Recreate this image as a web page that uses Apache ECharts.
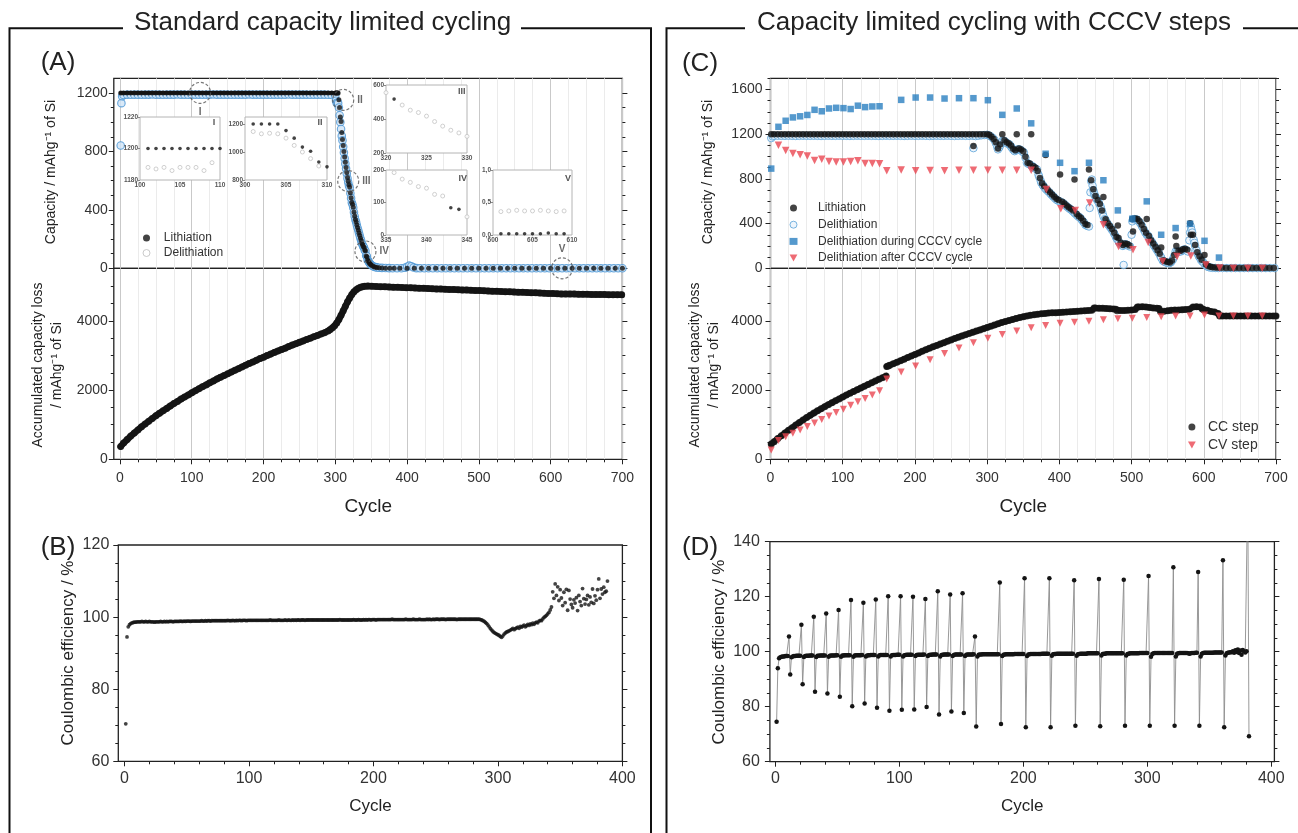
<!DOCTYPE html>
<html>
<head>
<meta charset="utf-8">
<script src="https://cdn.jsdelivr.net/npm/echarts@6/dist/echarts.min.js"></script>
<style>
html,body{margin:0;padding:0;background:#fff;}
#chart{width:1298px;height:833px;}
</style>
</head>
<body>
<div id="chart"></div>
<script>
// ---------- (A) standard capacity limited cycling: capacity per cycle ----------
const lithiationA = [
 [1,1200],[5,1200],[10,1200],[15,1200],[20,1200],[25,1200],[30,1200],[35,1200],[40,1200],[45,1200],
 [50,1200],[55,1200],[60,1200],[65,1200],[70,1200],[75,1200],[80,1200],[85,1200],[90,1200],[95,1200],
 [100,1200],[105,1200],[110,1200],[115,1200],[120,1200],[125,1200],[130,1200],[135,1200],[140,1200],[145,1200],
 [150,1200],[155,1200],[160,1200],[165,1200],[170,1200],[175,1200],[180,1200],[185,1200],[190,1200],[195,1200],
 [200,1200],[205,1200],[210,1200],[215,1200],[220,1200],[225,1200],[230,1200],[235,1200],[240,1200],[245,1200],
 [250,1200],[255,1200],[260,1200],[265,1200],[270,1200],[275,1200],[280,1200],[285,1200],[290,1200],[295,1200],
 [300,1200],[301,1200],[302,1200],[303,1200],[304,1200],[305,1153],[306,1100],[307,1035],[308,1005],[309,930],
 [310,882],[311,840],[312,800],[313,762],[314,725],[315,690],[316,655],[317,622],[318,595],[319,572],
 [320,556],[321,517],[322,482],[323,452],[324,438],[325,417],[326,385],[327,358],[328,334],[329,318],
 [330,298],[331,280],[332,262],[333,244],[334,226],[335,208],[336,192],[337,172],[338,162],[339,149],
 [340,144],[341,125],[342,120],[343,84],[344,79],[345,56],[346,48],[347,40],[348,33],[349,27],
 [350,22],[352,15],[354,10],[356,7],[358,5],[361,3],[365,2],[370,1],[376,0.5],[382,0.1],
 [390,0.02],[400,0.02],[410,0.02],[420,0.02],[430,0.02],[440,0.02],[450,0.02],[460,0.02],[470,0.02],[480,0.02],
 [490,0.02],[500,0.02],[510,0.02],[520,0.02],[530,0.02],[540,0.02],[550,0.02],[560,0.02],[570,0.02],[580,0.02],
 [590,0.02],[600,0.02],[610,0.02],[620,0.02],[630,0.02],[640,0.02],[650,0.02],[660,0.02],[670,0.02],[680,0.02],
 [690,0.02],[700,0.02]
];
const delithiationA = [
 [1,840],[2,1130],[3,1178],[5,1186],[10,1188],[15,1187],[20,1188],[25,1188],[30,1187],[35,1188],[40,1188],[45,1189],
 [50,1188],[55,1188],[60,1187],[65,1188],[70,1188],[75,1188],[80,1189],[85,1188],[90,1188],[95,1187],
 [100,1188],[105,1188],[110,1188],[115,1187],[120,1188],[125,1188],[130,1189],[135,1188],[140,1188],[145,1188],
 [150,1188],[155,1187],[160,1188],[165,1188],[170,1188],[175,1188],[180,1189],[185,1188],[190,1188],[195,1188],
 [200,1188],[205,1188],[210,1187],[215,1188],[220,1188],[225,1188],[230,1188],[235,1189],[240,1188],[245,1188],
 [250,1188],[255,1188],[260,1188],[265,1187],[270,1188],[275,1188],[280,1188],[285,1188],[290,1187],[295,1186],
 [300,1180],[301,1146],[302,1130],[303,1134],[304,1130],[305,1100],[306,1047],[307,1000],[308,953],[309,906],
 [310,875],[311,832],[312,792],[313,752],[314,716],[315,682],[316,648],[317,615],[318,588],[319,566],
 [320,552],[321,514],[322,480],[323,450],[324,436],[325,415],[326,383],[327,356],[328,332],[329,316],
 [330,296],[331,278],[332,260],[333,242],[334,224],[335,206],[336,190],[337,171],[338,161],[339,147],
 [340,143],[341,124],[342,119],[343,88],[344,82],[345,58],[346,50],[347,42],[348,35],[349,28],
 [350,23],[352,16],[354,11],[356,8],[358,6],[361,4],[365,3],[370,2],[375,1],[380,0.5],
 [386,0.4],[392,0.4],[397,4],[400,10],[403,18],[406,14],[409,6],[413,1],[418,0.4],[424,0.36],
 [430,0.36],[436,0.36],[442,0.36],[448,0.36],[454,0.36],[460,0.36],[466,0.36],[472,0.36],[478,0.36],[484,0.36],
 [490,0.36],[496,0.36],[502,0.36],[508,0.36],[514,0.36],[520,0.36],[526,0.36],[532,0.36],[538,0.36],[544,0.36],
 [550,0.36],[556,0.36],[562,0.36],[568,0.36],[574,0.36],[580,0.36],[586,0.36],[592,0.36],[598,0.36],[604,0.36],
 [610,0.36],[616,0.36],[622,0.36],[628,0.36],[634,0.36],[640,0.36],[646,0.36],[652,0.36],[658,0.36],[664,0.36],
 [670,0.36],[676,0.36],[682,0.36],[688,0.36],[694,0.36],[700,0.36]
];
// accumulated capacity loss (A, lower half)
const capacityLossA = [
 [1,370],[5,470],[10,570],[15,670],[20,760],[25,850],[30,940],[35,1020],[40,1100],[45,1180],
 [50,1260],[55,1330],[60,1400],[65,1470],[70,1540],[75,1610],[80,1670],[85,1740],[90,1800],[95,1860],
 [100,1920],[105,1980],[110,2040],[115,2100],[120,2150],[125,2210],[130,2260],[135,2320],[140,2370],[145,2420],
 [150,2470],[155,2520],[160,2570],[165,2620],[170,2670],[175,2720],[180,2770],[185,2810],[190,2860],[195,2910],
 [200,2950],[205,3000],[210,3040],[215,3090],[220,3130],[225,3170],[230,3210],[235,3260],[240,3300],[245,3340],
 [250,3380],[255,3420],[260,3460],[265,3500],[270,3540],[275,3580],[280,3620],[285,3660],[290,3710],[293,3750],
 [296,3800],[299,3860],[302,3940],[305,4040],[308,4160],[311,4290],[314,4420],[317,4550],[320,4660],[323,4760],
 [326,4840],[329,4900],[332,4940],[335,4970],[338,4990],[341,5000],[345,5005],[351,5000],[357,4995],[363,4990],
 [369,4985],[375,4980],[381,4975],[387,4970],[393,4965],[399,4960],[405,4955],[411,4950],[417,4945],[423,4940],
 [429,4935],[435,4930],[441,4925],[447,4920],[453,4915],[459,4910],[465,4905],[471,4900],[477,4895],[483,4890],
 [489,4885],[495,4880],[501,4875],[507,4870],[513,4865],[519,4860],[525,4855],[531,4850],[537,4845],[543,4840],
 [549,4835],[555,4830],[561,4825],[567,4820],[573,4815],[579,4810],[585,4805],[591,4800],[597,4795],[603,4790],
 [609,4785],[615,4780],[621,4778],[627,4776],[633,4774],[639,4772],[645,4770],[651,4768],[657,4766],[663,4764],
 [669,4762],[675,4760],[681,4758],[687,4756],[693,4754],[699,4752]
];
// close-up views inside (A)
const insetI_li = [[101,1200],[102,1200],[103,1200],[104,1200],[105,1200],[106,1200],[107,1200],[108,1200],[109,1200],[110,1200]];
const insetI_de = [[101,1188],[102,1187],[103,1188],[104,1186],[105,1188],[106,1188],[107,1188],[108,1186],[109,1191]];
const insetII_li = [[301,1200],[302,1200],[303,1200],[304,1200],[305,1153],[306,1099],[307,1035],[308,1005],[309,929],[310,894]];
const insetII_de = [[301,1146],[302,1130],[303,1134],[304,1130],[305,1099],[306,1047],[307,1000],[308,953],[309,900]];
const insetIII_li = [[321,517]];
const insetIII_de = [[320,555],[322,482],[323,452],[324,438],[325,417],[326,385],[327,358],[328,334],[329,318],[330,298]];
const insetIV_li = [[343,84],[344,79]];
const insetIV_de = [[336,192],[337,172],[338,162],[339,149],[340,144],[341,125],[342,120],[345,56]];
const insetV_li = [[601,0.02],[602,0.02],[603,0.02],[604,0.02],[605,0.02],[606,0.02],[607,0.03],[608,0.02],[609,0.02]];
const insetV_de = [[601,0.36],[602,0.37],[603,0.38],[604,0.37],[605,0.37],[606,0.38],[607,0.37],[608,0.36],[609,0.37]];
// highlighted regions I..V in (A): [cycle, capacity, tag, label side]
const zoomMarks = [[111.6,1200,'I','bottom'],[311,1152,'II','right'],[318,597,'III','right'],[342,115,'IV','right'],[616,0,'V','top']];

// ---------- (B) coulombic efficiency, cycles 1..388 ----------
const efficiencyB = [
 70.4,94.5,97.3,97.9,98.2,98.4,98.5,98.6,98.6,98.7,
 98.7,98.7,98.7,98.8,98.7,98.7,98.8,98.7,98.7,98.8,
 98.7,98.7,98.7,98.6,98.7,98.7,98.7,98.7,98.8,98.7,
 98.7,98.8,98.7,98.8,98.7,98.8,98.8,98.8,98.7,98.8,
 98.8,98.8,98.8,98.8,98.9,98.8,98.8,98.9,98.8,98.9,
 98.9,98.9,98.8,98.9,98.9,98.9,98.9,98.9,98.9,98.9,
 98.9,99.0,98.9,98.9,99.0,98.9,99.0,99.0,98.9,99.0,
 99.0,99.0,99.0,99.0,99.0,99.0,99.0,99.0,99.0,99.0,
 99.0,99.0,99.1,99.0,99.0,99.0,99.1,99.0,99.0,99.1,
 99.0,99.1,99.1,99.0,99.1,99.1,99.1,99.0,99.1,99.1,
 99.1,99.1,99.1,99.1,99.1,99.1,99.1,99.1,99.1,99.1,
 99.1,99.1,99.1,99.1,99.1,99.1,99.2,99.1,99.1,99.1,
 99.1,99.1,99.1,99.2,99.1,99.1,99.1,99.1,99.2,99.1,
 99.1,99.2,99.1,99.1,99.2,99.1,99.2,99.1,99.2,99.2,
 99.1,99.2,99.2,99.2,99.1,99.2,99.2,99.2,99.2,99.2,
 99.2,99.2,99.2,99.2,99.2,99.2,99.2,99.2,99.2,99.2,
 99.2,99.2,99.2,99.2,99.2,99.2,99.2,99.2,99.2,99.2,
 99.2,99.2,99.3,99.2,99.2,99.2,99.2,99.2,99.2,99.2,
 99.2,99.2,99.2,99.3,99.2,99.2,99.2,99.3,99.2,99.2,
 99.2,99.3,99.2,99.3,99.2,99.3,99.3,99.2,99.3,99.3,
 99.3,99.2,99.3,99.3,99.3,99.3,99.3,99.3,99.3,99.3,
 99.3,99.3,99.3,99.3,99.4,99.3,99.3,99.3,99.3,99.3,
 99.3,99.3,99.3,99.3,99.3,99.4,99.3,99.3,99.3,99.3,
 99.3,99.4,99.3,99.3,99.3,99.3,99.4,99.3,99.3,99.3,
 99.3,99.3,99.4,99.3,99.4,99.3,99.3,99.4,99.3,99.4,
 99.4,99.4,99.3,99.4,99.4,99.4,99.4,99.3,99.4,99.4,
 99.4,99.4,99.4,99.4,99.4,99.4,99.3,99.4,99.4,99.4,
 99.4,99.4,99.4,99.4,99.4,99.4,99.4,99.4,99.4,99.4,
 99.4,99.4,99.4,99.4,99.4,99.3,99.2,99.0,98.8,98.5,
 98.2,97.8,97.3,96.8,96.4,96.0,95.7,95.5,95.3,95.1,
 94.9,94.6,94.4,94.8,95.3,95.6,95.9,96.0,96.2,96.4,
 96.6,96.9,96.5,96.8,97.0,97.2,96.9,97.4,97.2,97.5,
 97.8,97.3,97.6,98.0,97.7,98.1,97.9,98.3,98.0,98.4,
 98.6,98.4,98.9,99.1,99.0,99.5,99.9,100.2,100.5,100.9,
 101.3,102.0,102.8,107.0,105.2,109.2,106.0,108.4,104.6,107.6,
 105.3,103.2,106.9,104.0,107.7,101.9,107.4,105.0,103.5,102.6,
 104.8,103.9,105.4,101.8,106.0,104.3,103.2,107.9,105.1,103.6,
 104.9,106.0,103.4,105.6,104.1,107.8,103.8,105.9,104.7,107.6,
 110.6,105.2,107.8,106.4,108.3,106.9,107.2,110.0
];

// ---------- (C) capacity limited cycling with CCCV steps ----------
const lithiationC = [
 [1,1200],[5,1200],[10,1200],[15,1200],[20,1200],[25,1200],[30,1200],[35,1200],[40,1200],[45,1200],
 [50,1200],[55,1200],[60,1200],[65,1200],[70,1200],[75,1200],[80,1200],[85,1200],[90,1200],[95,1200],
 [100,1200],[105,1200],[110,1200],[115,1200],[120,1200],[125,1200],[130,1200],[135,1200],[140,1200],[145,1200],
 [150,1200],[155,1200],[160,1200],[165,1200],[170,1200],[175,1200],[180,1200],[185,1200],[190,1200],[195,1200],
 [200,1200],[205,1200],[210,1200],[215,1200],[220,1200],[225,1200],[230,1200],[235,1200],[240,1200],[245,1200],
 [250,1200],[255,1200],[260,1200],[265,1200],[270,1200],[275,1200],[280,1200],[281,1095],[285,1200],[290,1200],
 [295,1200],[300,1200],[303,1196],[306,1178],[309,1158],[312,1128],[315,1072],[318,1108],[321,1200],[324,1146],
 [327,1128],[330,1116],[333,1098],[336,1070],[339,1056],[341,1200],[344,1072],[347,1063],[350,1048],[353,998],
 [356,945],[359,937],[361,1200],[364,913],[367,900],[370,870],[373,808],[376,760],[379,734],[381,1013],
 [384,700],[387,680],[390,660],[393,641],[396,622],[399,611],[401,839],[404,596],[407,580],[410,563],
 [413,547],[416,533],[419,517],[421,794],[424,485],[427,466],[430,450],[433,426],[436,397],[439,388],
 [441,884],[444,788],[447,708],[450,648],[453,612],[456,575],[459,518],[461,638],[464,438],[467,404],
 [470,378],[473,352],[476,318],[479,280],[481,383],[482,270],[485,228],[488,208],[491,223],[494,218],
 [497,205],[501,440],[502,330],[505,446],[508,442],[511,420],[514,390],[517,352],[520,318],[521,440],
 [524,288],[527,250],[530,222],[533,192],[536,162],[539,130],[541,186],[544,72],[547,63],[550,56],
 [553,52],[556,70],[559,118],[561,285],[562,200],[565,156],[568,158],[571,170],[574,176],[577,166],
 [581,404],[582,300],[585,300],[588,208],[591,143],[594,108],[597,76],[601,120],[603,33],[606,20],
 [609,14],[612,10],[616,8],[620,6],[625,4],[631,2],[637,2],[643,2],[649,2],[655,2],
 [661,2],[667,2],[673,2],[679,2],[685,2],[691,2],[697,2]
];
const delithiationC = [
 [1,1165],[3,1180],[5,1185],[10,1186],[15,1185],[20,1185],[25,1186],[30,1185],[35,1184],[40,1185],
 [45,1186],[50,1185],[55,1185],[60,1186],[65,1185],[70,1184],[75,1185],[80,1186],[85,1185],[90,1185],
 [95,1186],[100,1185],[105,1185],[110,1184],[115,1185],[120,1186],[125,1185],[130,1185],[135,1186],[140,1185],
 [145,1185],[150,1184],[155,1185],[160,1186],[165,1185],[170,1185],[175,1186],[180,1185],[185,1184],[190,1185],
 [195,1186],[200,1185],[205,1185],[210,1186],[215,1185],[220,1184],[225,1185],[230,1186],[235,1185],[240,1185],
 [245,1186],[250,1185],[255,1184],[260,1185],[265,1186],[270,1185],[275,1185],[280,1186],[281,1075],[284,1183],
 [288,1186],[292,1190],[296,1192],[300,1195],[303,1188],[305,1180],[308,1165],[310,1150],[312,1120],[314,1085],
 [315,1064],[317,1082],[318,1100],[320,1125],[321,1140],[323,1140],[324,1138],[326,1128],[327,1120],[329,1114],
 [331,1108],[333,1090],[334,1080],[336,1062],[338,1048],[340,1055],[341,1060],[343,1064],[345,1064],[347,1055],
 [348,1050],[350,1040],[351,1034],[353,990],[355,944],[357,935],[359,929],[361,920],[362,915],[364,905],
 [365,900],[367,892],[369,884],[371,840],[372,820],[374,785],[375,764],[377,745],[378,735],[380,718],
 [382,704],[384,692],[386,680],[388,666],[389,659],[391,646],[392,640],[394,626],[396,614],[398,606],
 [400,600],[402,594],[405,584],[407,572],[409,560],[411,550],[413,539],[415,530],[416,525],[418,515],
 [419,509],[421,496],[422,490],[424,477],[426,464],[428,456],[429,450],[431,434],[433,418],[434,410],
 [436,389],[438,382],[439,380],[441,374],[442,540],[443,680],[444,780],[445,794],[446,740],[447,700],
 [448,674],[449,655],[450,640],[451,627],[452,614],[454,595],[455,580],[457,554],[458,532],[459,510],
 [460,487],[461,464],[463,440],[464,430],[465,417],[466,404],[468,388],[470,370],[472,352],[473,344],
 [475,322],[476,310],[478,284],[479,272],[480,262],[482,240],[483,232],[485,220],[487,208],[488,200],
 [489,30],[490,212],[491,215],[493,212],[494,210],[496,200],[498,195],[500,300],[501,420],[502,440],
 [504,440],[505,438],[507,436],[508,434],[510,420],[512,404],[514,382],[515,370],[517,344],[519,320],
 [521,300],[523,290],[524,280],[526,254],[528,236],[529,225],[531,205],[532,195],[534,175],[535,165],
 [537,145],[538,135],[540,108],[541,95],[543,70],[545,60],[547,55],[548,52],[550,48],[552,45],
 [554,52],[555,60],[557,75],[558,92],[559,110],[561,150],[563,149],[564,148],[566,150],[568,150],
 [570,158],[571,162],[573,170],[575,165],[576,160],[578,150],[580,250],[581,320],[582,374],[583,345],
 [584,320],[586,255],[587,228],[588,200],[590,160],[591,135],[593,110],[594,100],[596,75],[598,62],
 [599,55],[601,39],[603,25],[605,15],[607,10],[609,7],[612,4],[616,3],[620,2],[626,2],
 [632,2],[638,2],[644,2],[650,2],[656,2],[662,2],[668,2],[674,2],[680,2],[686,2],
 [692,2],[698,2]
];
const delithDuringCCCV = [
 [1,892],[11,1266],[21,1320],[31,1350],[41,1360],[51,1372],[61,1418],[71,1405],[81,1430],[91,1436],
 [101,1433],[111,1425],[121,1455],[131,1442],[141,1448],[151,1450],[181,1507],[201,1528],[221,1528],[241,1519],
 [261,1522],[281,1522],[301,1504],[321,1373],[341,1430],[361,1297],[381,1025],[401,944],[421,869],[441,944],
 [461,788],[481,518],[501,443],[521,599],[541,300],[561,360],[581,398],[601,246],[621,96]
];
const delithAfterCCCV = [
 [11,1100],[21,1055],[31,1028],[41,1015],[51,1005],[61,965],[71,975],[81,955],[91,952],[101,952],
 [111,955],[121,962],[131,937],[141,937],[151,935],[161,872],[181,880],[201,872],[221,875],[241,872],
 [261,878],[281,878],[301,878],[321,878],[341,878],[361,878],[382,704],[402,533],[422,518],[442,584],
 [461,390],[482,195],[502,165],[523,231],[543,60],[563,105],[582,111],[603,30],[622,2],[641,1],
 [661,1],[681,1]
];
// accumulated capacity loss (C, lower half)
const lossCCStep = [
 [1,440],[5,510],[10,600],[15,680],[20,760],[25,840],[30,915],[35,990],[40,1065],[45,1135],
 [50,1205],[55,1270],[60,1335],[65,1400],[70,1460],[75,1520],[80,1580],[85,1635],[90,1690],[95,1745],
 [100,1800],[105,1855],[110,1910],[115,1960],[120,2010],[125,2060],[130,2110],[135,2160],[140,2210],[145,2260],
 [150,2310],[155,2360],[160,2410],[161,2680],[163,2700],[165,2715],[170,2760],[175,2805],[180,2850],[185,2895],
 [190,2940],[195,2985],[200,3030],[205,3075],[210,3120],[215,3165],[220,3210],[225,3250],[230,3290],[235,3330],
 [240,3370],[245,3410],[250,3450],[255,3490],[260,3530],[265,3565],[270,3600],[275,3635],[280,3670],[285,3705],
 [290,3740],[295,3775],[300,3810],[305,3845],[310,3880],[315,3915],[320,3950],[325,3980],[330,4010],[335,4040],
 [340,4070],[345,4095],[350,4120],[355,4145],[360,4165],[365,4180],[370,4195],[375,4205],[380,4215],[385,4225],
 [390,4232],[395,4238],[400,4245],[405,4252],[410,4258],[415,4265],[420,4272],[425,4280],[430,4287],[435,4293],
 [440,4300],[445,4308],[448,4370],[450,4372],[455,4368],[460,4362],[465,4358],[470,4352],[475,4345],[478,4340],
 [480,4295],[485,4298],[490,4302],[495,4306],[500,4312],[505,4330],[508,4400],[510,4405],[515,4410],[520,4400],
 [525,4385],[530,4372],[535,4365],[538,4358],[540,4275],[545,4282],[550,4295],[555,4305],[560,4312],[565,4318],
 [570,4322],[575,4328],[580,4335],[585,4400],[590,4410],[595,4398],[598,4345],[600,4325],[605,4305],[610,4275],
 [615,4255],[620,4215],[622,4140],[626,4140],[631,4139],[636,4139],[641,4138],[646,4138],[651,4138],[656,4138],
 [661,4138],[666,4138],[671,4138],[676,4138],[681,4138],[686,4138],[691,4138],[696,4138],[700,4138]
];
const lossCVStep = [
 [1,270],[11,540],[21,650],[31,750],[41,850],[51,950],[61,1050],[71,1150],[81,1250],[91,1350],
 [101,1450],[111,1560],[121,1660],[131,1760],[141,1860],[151,1980],[161,2320],[181,2520],[201,2700],[221,2880],
 [241,3060],[261,3220],[281,3370],[301,3500],[321,3610],[341,3710],[361,3800],[381,3870],[401,3930],[421,3960],
 [441,3990],[461,4030],[481,4060],[501,4080],[521,4100],[541,4120],[561,4140],[581,4145],[601,4170],[621,4145],
 [641,4140],[661,4140],[681,4140]
];

// ---------- (D) coulombic efficiency with CCCV steps, cycles 1..382 ----------
const efficiencyD = [
 74.5,94.0,97.6,98.0,98.2,98.3,98.3,98.4,98.4,98.4,
 105.5,91.7,98.0,98.3,98.4,98.4,98.5,98.5,98.5,98.5,
 109.8,88.2,98.1,98.4,98.5,98.5,98.5,98.6,98.6,98.6,
 112.7,85.4,98.1,98.5,98.5,98.6,98.6,98.6,98.6,98.6,
 113.9,84.8,98.2,98.5,98.6,98.6,98.6,98.6,98.7,98.7,
 115.2,83.6,98.2,98.6,98.6,98.7,98.7,98.7,98.7,98.7,
 118.8,80.2,98.2,98.6,98.7,98.7,98.7,98.7,98.7,98.8,
 117.8,81.2,98.3,98.6,98.7,98.7,98.8,98.8,98.8,98.8,
 119.0,79.6,98.3,98.7,98.8,98.8,98.8,98.8,98.8,98.8,
 120.2,78.5,98.3,98.7,98.8,98.8,98.8,98.9,98.9,98.9,
 120.2,78.9,98.3,98.7,98.8,98.9,98.9,98.9,98.9,98.9,
 120.0,79.0,98.4,98.8,98.9,98.9,98.9,98.9,98.9,99.0,
 119.2,79.9,98.4,98.8,98.9,98.9,99.0,99.0,99.0,99.0,
 122.0,77.2,98.3,98.8,98.9,99.0,99.0,99.0,99.0,99.0,
 120.8,78.3,98.4,98.8,99.0,99.0,99.0,99.0,99.0,99.0,
 121.3,77.7,98.4,98.9,99.0,99.0,99.0,99.0,99.0,99.1,
 105.5,72.8,98.3,98.9,99.0,99.0,99.1,99.1,99.1,99.1,
 99.1,99.1,99.1,99.1,99.1,99.1,99.1,99.1,99.1,99.1,
 125.2,73.7,98.4,98.9,99.0,99.1,99.1,99.1,99.1,99.1,
 99.1,99.1,99.2,99.2,99.2,99.2,99.2,99.2,99.2,99.2,
 126.7,72.5,98.4,99.0,99.1,99.2,99.2,99.2,99.2,99.2,
 99.2,99.2,99.2,99.2,99.3,99.3,99.3,99.3,99.3,99.3,
 126.7,72.5,98.5,99.1,99.2,99.2,99.3,99.3,99.3,99.3,
 99.3,99.3,99.3,99.3,99.3,99.3,99.3,99.3,99.3,99.3,
 126.0,73.1,98.5,99.1,99.2,99.3,99.3,99.3,99.3,99.3,
 99.3,99.4,99.4,99.4,99.4,99.4,99.4,99.4,99.4,99.4,
 126.4,72.9,98.6,99.2,99.3,99.3,99.4,99.4,99.4,99.4,
 99.4,99.4,99.4,99.4,99.4,99.4,99.4,99.4,99.4,99.4,
 126.2,73.1,98.6,99.2,99.3,99.4,99.4,99.4,99.4,99.4,
 99.4,99.4,99.4,99.5,99.5,99.5,99.5,99.5,99.5,99.5,
 127.5,73.1,98.2,99.2,99.4,99.5,99.5,99.5,99.5,99.5,
 99.5,99.5,99.5,99.5,99.5,99.5,99.5,99.5,99.5,99.5,
 130.7,73.1,98.3,99.3,99.4,99.5,99.5,99.5,99.5,99.5,
 99.5,99.5,99.4,99.3,99.4,99.5,99.5,99.5,99.6,99.6,
 129.0,73.1,98.3,99.3,99.5,99.6,99.6,99.6,99.6,99.6,
 99.6,99.6,99.6,99.7,99.7,99.7,99.7,99.7,99.7,99.7,
 133.3,72.5,98.6,99.4,99.6,99.7,99.8,99.8,100.2,99.6,
 100.5,99.9,100.8,99.5,100.4,98.9,100.6,100.1,99.7,100.2,
 160.0,69.3
];

// ---------- tick positions ----------
function ticks(from, to, step, skipEvery) {
  const out = [];
  for (let v = from; v <= to + 1e-9; v += step) {
    const r = Math.round(v * 1000) / 1000;
    if (skipEvery && Math.abs(r / skipEvery - Math.round(r / skipEvery)) < 1e-9) continue;
    out.push(r);
  }
  return out;
}
const cycleMajor700 = ticks(0, 700, 100);
const cycleMinor700 = ticks(25, 675, 25, 100);
const cycleMajor400 = ticks(0, 400, 100);
const cycleMinor400 = ticks(20, 380, 20, 100);

// ---------- layout helpers ----------
const FONT = "'Liberation Sans', Arial, Helvetica, sans-serif";
const INK = '#222';
const plain = v => String(v);
const grids = [], xAxes = [], yAxes = [], series = [];

function addPanel(p) {
  const g = grids.length;
  grids.push({
    left: p.rect[0], top: p.rect[1], width: p.rect[2], height: p.rect[3],
    show: true, borderColor: INK, borderWidth: 1.3, backgroundColor: 'transparent',
    containLabel: false, outerBoundsMode: 'none'
  });
  const xi = xAxes.length, yi = yAxes.length;
  const fs = p.fontSize;
  const xBase = {gridIndex: g, type: 'value', min: p.x[0], max: p.x[1], position: 'bottom',
    axisLine: {show: false, onZero: false}, silent: true};
  xAxes.push(Object.assign({}, xBase, {
    axisTick: {show: !!p.xTicks, customValues: p.xMajor, length: 5, inside: false, lineStyle: {color: INK, width: 1}},
    axisLabel: {show: !!p.xTicks, customValues: p.xMajor, formatter: plain, fontSize: fs, color: '#333', fontFamily: FONT, margin: p.xMargin},
    splitLine: {show: !!p.vgrid, lineStyle: {color: '#c9c9c9', width: 1}}
  }));
  xAxes.push(Object.assign({}, xBase, {
    axisTick: {show: !!p.xTicks, customValues: p.xMinor, length: 3, inside: false, lineStyle: {color: INK, width: 1}},
    axisLabel: {show: false},
    splitLine: {show: !!p.vgrid, lineStyle: {color: '#ebebeb', width: 1}}
  }));
  const yBase = {gridIndex: g, type: 'value', min: p.y[0], max: p.y[1],
    axisLine: {show: false, onZero: false}, splitLine: {show: false}, silent: true};
  ['left', 'right'].forEach(function (side) {
    yAxes.push(Object.assign({}, yBase, {position: side,
      axisTick: {show: true, customValues: p.yMajor, length: 5, inside: false, lineStyle: {color: INK, width: 1}},
      axisLabel: {show: side === 'left', customValues: p.yMajor, formatter: plain, fontSize: fs, color: '#333', fontFamily: FONT, margin: p.yMargin}
    }));
    yAxes.push(Object.assign({}, yBase, {position: side,
      axisTick: {show: true, customValues: p.yMinor, length: 3, inside: false, lineStyle: {color: INK, width: 1}},
      axisLabel: {show: false}
    }));
  });
  return {x: xi, y: yi};
}

function addInset(rect, xr, yr, xl, yl, fmt) {
  const g = grids.length;
  grids.push({left: rect[0], top: rect[1], width: rect[2], height: rect[3], show: true,
    borderColor: '#b4b4b4', borderWidth: 1, backgroundColor: '#fff', z: 3,
    containLabel: false, outerBoundsMode: 'none'});
  const lab = {fontSize: 6.5, fontWeight: 'bold', color: '#555', fontFamily: FONT, margin: 2};
  const xi = xAxes.length, yi = yAxes.length;
  xAxes.push({gridIndex: g, type: 'value', min: xr[0], max: xr[1], position: 'bottom', z: 4, silent: true,
    axisLine: {show: false, onZero: false}, axisTick: {show: false, customValues: xl},
    axisLabel: Object.assign({customValues: xl, formatter: plain}, lab), splitLine: {show: false}});
  yAxes.push({gridIndex: g, type: 'value', min: yr[0], max: yr[1], position: 'left', z: 4, silent: true,
    axisLine: {show: false, onZero: false}, axisTick: {show: true, customValues: yl, length: 2, lineStyle: {color: '#888'}},
    axisLabel: Object.assign({customValues: yl, formatter: fmt || plain}, lab), splitLine: {show: false}});
  return {x: xi, y: yi};
}

function scatter(name, ax, data, sym, size, style, z, extra) {
  return Object.assign({
    name: name, type: 'scatter', xAxisIndex: ax.x, yAxisIndex: ax.y, data: data,
    symbol: sym, symbolSize: size, itemStyle: style, z: z || 2,
    emphasis: {disabled: true}, silent: true, clip: true
  }, extra || {});
}
// a continuous stroke under densely spaced points, so the point chain reads as one band
function band(ax, data, width, z) {
  return {type: 'line', xAxisIndex: ax.x, yAxisIndex: ax.y, data: data, showSymbol: false, symbol: 'none',
    lineStyle: {color: '#141414', width: width, cap: 'round', join: 'round'}, z: z,
    silent: true, emphasis: {disabled: true}, clip: true};
}

// ---------- panels ----------
const A1 = addPanel({rect: [113.8, 78.3, 508.6, 190], x: [-8.6, 700], y: [0, 1300],
  xMajor: cycleMajor700, xMinor: cycleMinor700, yMajor: [0, 400, 800, 1200], yMinor: ticks(100, 1100, 100, 400),
  vgrid: true, xTicks: false, fontSize: 14, xMargin: 12, yMargin: 6});
const A2 = addPanel({rect: [113.8, 268.3, 508.6, 191], x: [-8.6, 700], y: [0, 5520],
  xMajor: cycleMajor700, xMinor: cycleMinor700, yMajor: [0, 2000, 4000], yMinor: ticks(500, 5000, 500, 2000),
  vgrid: true, xTicks: true, fontSize: 14, xMargin: 12, yMargin: 6});
const B = addPanel({rect: [118.3, 545, 504.1, 216.3], x: [-5, 400], y: [60, 120],
  xMajor: cycleMajor400, xMinor: cycleMinor400, yMajor: [60, 80, 100, 120], yMinor: ticks(65, 115, 5, 20),
  vgrid: false, xTicks: true, fontSize: 16, xMargin: 9, yMargin: 9});
const C1 = addPanel({rect: [770.5, 78.3, 505.5, 190], x: [0, 700], y: [0, 1700],
  xMajor: cycleMajor700, xMinor: cycleMinor700, yMajor: [0, 400, 800, 1200, 1600], yMinor: ticks(100, 1700, 100, 400),
  vgrid: true, xTicks: false, fontSize: 14, xMargin: 12, yMargin: 8});
const C2 = addPanel({rect: [770.5, 268.3, 505.5, 191], x: [0, 700], y: [0, 5520],
  xMajor: cycleMajor700, xMinor: cycleMinor700, yMajor: [0, 2000, 4000], yMinor: ticks(500, 5000, 500, 2000),
  vgrid: true, xTicks: true, fontSize: 14, xMargin: 12, yMargin: 8});
const D = addPanel({rect: [769.9, 541.7, 504.5, 220], x: [-4.4, 402.5], y: [60, 140],
  xMajor: cycleMajor400, xMinor: cycleMinor400, yMajor: [60, 80, 100, 120, 140], yMinor: ticks(65, 135, 5, 20),
  vgrid: false, xTicks: true, fontSize: 16, xMargin: 9, yMargin: 10});

const comma = v => v.toFixed(1).replace('.', ',');
const I1 = addInset([140, 117, 80, 63], [100, 110], [1180, 1220], [100, 105, 110], [1180, 1200, 1220]);
const I2 = addInset([245, 117, 82, 63], [300, 310], [800, 1250], [300, 305, 310], [800, 1000, 1200]);
const I3 = addInset([386, 85, 81, 68], [320, 330], [200, 600], [320, 325, 330], [200, 400, 600]);
const I4 = addInset([386, 170, 81, 65], [335, 345], [0, 200], [335, 340, 345], [0, 100, 200]);
const I5 = addInset([493, 170, 79, 65], [600, 610], [0, 1], [600, 605, 610], [0, 0.5, 1], comma);

// ---------- marks ----------
const BLACK = '#141414';
const dotBlack = {color: BLACK};
const openBlueA = {color: '#cfe4f6', borderColor: '#4592d3', borderWidth: 1.1};
const openBlueC = {color: '#eaf3fb', borderColor: '#5aa2d8', borderWidth: 1};
const openGrey = {color: '#fff', borderColor: '#c4c4c4', borderWidth: 1};
const squareBlue = {color: '#2b80c1'};
const triRed = {color: '#ea4651'};

// the stable stretch of the lithiation series (before capacity fade) drawn as one band
const lithPlateauA = lithiationA.filter(d => d[0] <= 304);

series.push(scatter('Delithiation', A1, delithiationA, 'circle', 7.5, openBlueA, 2));
series.push(band(A1, lithPlateauA, 3.6, 2.5));
series.push(scatter('Lithiation', A1, lithiationA, 'circle', 5, dotBlack, 3));
series.push(band(A2, capacityLossA, 6.5, 1.5));
series.push(scatter('capacity loss A', A2, capacityLossA, 'circle', 7, dotBlack, 2));
series.push(scatter('marks', A1, zoomMarks.map(m => ({value: [m[0], m[1]], tag: m[2], label: {position: m[3]}})),
  'circle', 21, {color: 'rgba(0,0,0,0)', borderColor: '#555', borderWidth: 1.2, borderType: [3, 2]}, 6,
  {label: {show: true, formatter: p => p.data.tag, fontSize: 10, fontWeight: 'bold', color: '#444', distance: 3, fontFamily: FONT}}));

[[I1, insetI_li, insetI_de], [I2, insetII_li, insetII_de], [I3, insetIII_li, insetIII_de],
 [I4, insetIV_li, insetIV_de], [I5, insetV_li, insetV_de]].forEach(function (s) {
  series.push(scatter('', s[0], s[2], 'circle', 4, openGrey, 5));
  series.push(scatter('', s[0], s[1], 'circle', 3.6, dotBlack, 6));
});

series.push(scatter('B efficiency', B, efficiencyB.map((v, i) => [i + 1, v]), 'circle', 3.8, dotBlack, 2));

series.push(scatter('C:Delithiation', C1, delithiationC, 'circle', 7.5, openBlueC, 2));
series.push(scatter('C:Lithiation', C1, lithiationC, 'circle', 6.5, dotBlack, 3));
series.push(scatter('Delithiation during CCCV cycle', C1, delithDuringCCCV, 'rect', 6.5, squareBlue, 4));
series.push(scatter('Delithiation after CCCV cycle', C1, delithAfterCCCV, 'triangle', 7.5, triRed, 5, {symbolRotate: 180}));
series.push(band(C2, lossCCStep.slice(0, 33), 6, 1.5));
series.push(band(C2, lossCCStep.slice(33), 6, 1.5));
series.push(scatter('CC step', C2, lossCCStep, 'circle', 7, dotBlack, 2));
series.push(scatter('CV step', C2, lossCVStep, 'triangle', 7, triRed, 3, {symbolRotate: 180}));

series.push({
  name: 'D efficiency', type: 'line', xAxisIndex: D.x, yAxisIndex: D.y,
  data: efficiencyD.map((v, i) => [i + 1, v]),
  symbol: 'circle', symbolSize: 4.5, showSymbol: true, showAllSymbol: true,
  itemStyle: {color: BLACK}, lineStyle: {color: '#8d8d8d', width: 0.9},
  clip: true, silent: true, emphasis: {disabled: true}, z: 2
});

// ---------- legends ----------
const DOWN_TRI = 'path://M0,0L10,0L5,9Z';
function legendBox(left, top, gap, fontSize, lineHeight, itemGap, data) {
  return {left: left, top: top, padding: 0, orient: 'vertical', itemWidth: 8, itemHeight: 7,
    itemGap: itemGap, selectedMode: false,
    formatter: n => '{g| }' + n.replace(/^C:/, ''),
    textStyle: {fontSize: fontSize, color: '#333', lineHeight: lineHeight, fontFamily: FONT,
      rich: {g: {width: gap, fontSize: fontSize, lineHeight: lineHeight}}},
    data: data};
}
const legends = [
  legendBox(142.5, 231.5, 8.3, 12, 13, 2, [
    {name: 'Lithiation', icon: 'circle'},
    {name: 'Delithiation', icon: 'circle', itemStyle: {color: '#fff', borderColor: '#bbbbbb', borderWidth: 1}}]),
  legendBox(789.5, 201, 15.5, 12, 14, 2.7, [
    {name: 'C:Lithiation', icon: 'circle'},
    {name: 'C:Delithiation', icon: 'circle', itemStyle: {color: '#eaf3fb', borderColor: '#5aa2d8', borderWidth: 1}},
    {name: 'Delithiation during CCCV cycle', icon: 'rect'},
    {name: 'Delithiation after CCCV cycle', icon: DOWN_TRI}]),
  legendBox(1188, 419, 7, 14, 16, 2, [
    {name: 'CC step', icon: 'circle'},
    {name: 'CV step', icon: DOWN_TRI}])
];

// ---------- titles, frames, axis titles ----------
function txt(x, y, text, size, o) {
  o = o || {};
  return {type: 'text', x: x, y: y, rotation: o.rot || 0, z: 20, silent: true,
    style: {text: text, fontSize: size, fontFamily: FONT, fontWeight: o.bold ? 'bold' : 'normal',
      fill: o.color || '#222', align: 'center', verticalAlign: 'middle',
      textAlign: 'center', textVerticalAlign: 'middle', lineHeight: o.lh}};
}
function frame(points) {
  return {type: 'polyline', z: 20, silent: true, shape: {points: points},
    style: {stroke: '#111', lineWidth: 2, fill: null}};
}
const UP = Math.PI / 2;
const elements = [
  frame([[123, 28.3], [9.5, 28.3], [9.5, 833]]),
  frame([[521, 28.3], [651, 28.3], [651, 833]]),
  frame([[745, 28.3], [666.5, 28.3], [666.5, 833]]),
  frame([[1243, 28.3], [1298, 28.3]]),
  txt(322.5, 22.5, 'Standard capacity limited cycling', 26),
  txt(994, 22.5, 'Capacity limited cycling with CCCV steps', 26),
  txt(58, 62.5, '(A)', 26), txt(58, 548, '(B)', 26),
  txt(700, 63.5, '(C)', 26), txt(700, 548, '(D)', 26),
  txt(51.5, 172, 'Capacity / mAhg\u207B\u00B9 of Si', 14, {rot: UP}),
  txt(48, 365, 'Accumulated capacity loss\n/ mAhg\u207B\u00B9 of Si', 14, {rot: UP, lh: 19}),
  txt(708, 172, 'Capacity / mAhg\u207B\u00B9 of Si', 14, {rot: UP}),
  txt(704.5, 365, 'Accumulated capacity loss\n/ mAhg\u207B\u00B9 of Si', 14, {rot: UP, lh: 19}),
  txt(68.5, 653, 'Coulombic efficiency / %', 17, {rot: UP}),
  txt(719.4, 652, 'Coulombic efficiency / %', 17, {rot: UP}),
  txt(368.2, 507, 'Cycle', 19), txt(1023.3, 507, 'Cycle', 19),
  txt(370.4, 806, 'Cycle', 17), txt(1022.2, 806, 'Cycle', 17),
  txt(214, 123, 'I', 9, {bold: true, color: '#555'}),
  txt(320, 123, 'II', 9, {bold: true, color: '#555'}),
  txt(461.7, 91.7, 'III', 9, {bold: true, color: '#555'}),
  txt(462.7, 178.7, 'IV', 9, {bold: true, color: '#555'}),
  txt(568, 178.7, 'V', 9, {bold: true, color: '#555'})
];

const chart = echarts.init(document.getElementById('chart'), null, {renderer: 'canvas'});
chart.setOption({
  animation: false,
  backgroundColor: '#fff',
  textStyle: {fontFamily: FONT},
  tooltip: {show: false},
  grid: grids, xAxis: xAxes, yAxis: yAxes,
  legend: legends,
  series: series,
  graphic: {elements: elements}
});
</script>
</body>
</html>
